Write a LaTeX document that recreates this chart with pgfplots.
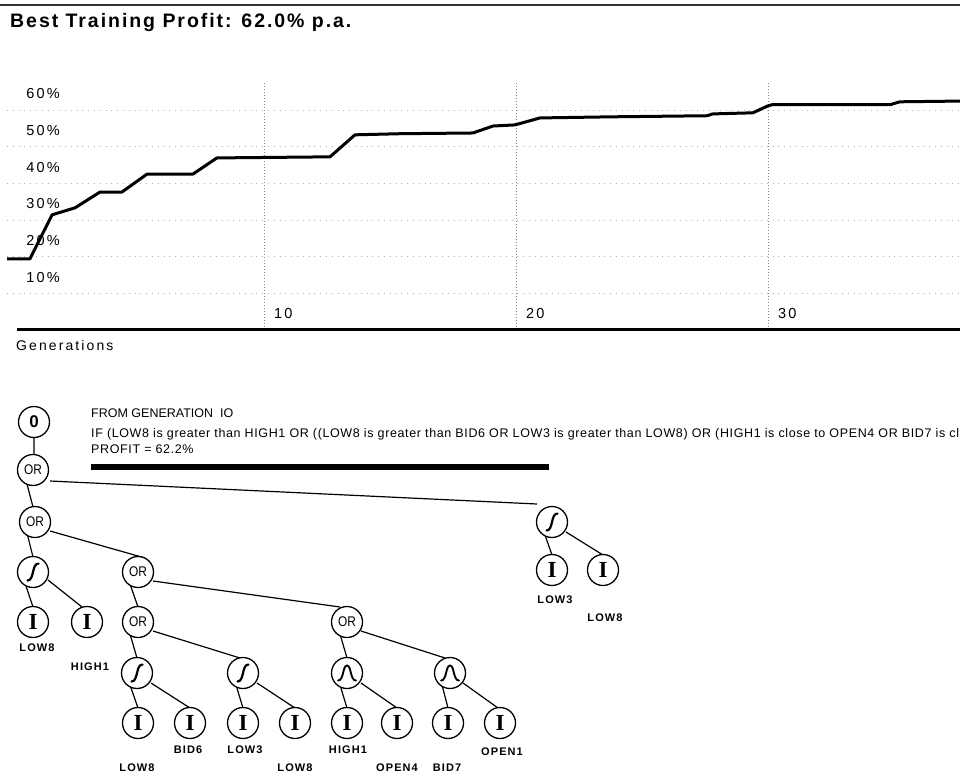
\documentclass[border=0pt]{standalone}
\usepackage{fontspec}
\setmainfont{Liberation Sans}
\newfontfamily\chartfont[LetterSpace=15]{Liberation Sans}
\newfontfamily\titlefont[LetterSpace=10]{Liberation Sans}
\newfontfamily\labfont[LetterSpace=10]{Liberation Sans}
\newfontfamily\rulefont[LetterSpace=5]{Liberation Sans}
\newfontfamily\orfont[FakeStretch=0.85]{Liberation Sans}
\newfontfamily\glyphfont{Liberation Serif}
\usepackage{pgfplots}
\pgfplotsset{compat=1.18}

\newcommand\tickf{\chartfont\fontsize{14.5}{15}\selectfont}
\newsavebox\sigbox
\newsavebox\bellbox

\pgfplotsset{
  tnode/.style={only marks, mark=*, mark size=15.5pt,
    mark options={fill=white, draw=black, line width=1.3pt},
    nodes near coords align=center,
    every node near coord/.append style={inner sep=0pt, anchor=center, text=black}},
}

\begin{document}%
\sbox\sigbox{\tikz\draw[line width=2.2pt, line cap=round] (-5.5pt,-8.5pt) .. controls (1.5pt,-8.5pt) and (-1.5pt,8.5pt) .. (5.5pt,8.5pt);}%
\sbox\bellbox{\tikz\draw[line width=1.9pt, line cap=round] (-9pt,-7pt) .. controls (-3pt,-7pt) and (-4.5pt,8pt) .. (0pt,8pt) .. controls (4.5pt,8pt) and (3pt,-7pt) .. (9pt,-7pt);}%
\begin{tikzpicture}
\path[use as bounding box] (0,0) rectangle (960pt,776pt);
\clip (0,0) rectangle (960pt,776pt);

% frame in pixel units (y downwards): title, captions and the rule tree
\begin{axis}[at={(0pt,0pt)}, anchor=south west, scale only axis,
  width=960pt, height=776pt, xmin=0, xmax=960, ymin=0, ymax=776,
  y dir=reverse, hide axis, clip=false]

\addplot[black!80, line width=1.5pt] coordinates {(0,5) (960,5)};
\node[anchor=base west, inner sep=0pt] at (axis cs:10,27.5)
  {\titlefont\bfseries\fontsize{19.5}{21}\selectfont Best Training Profit: 62.0\% p.a.};
\node[anchor=base west, inner sep=0pt] at (axis cs:16,350)
  {\chartfont\fontsize{14}{14}\selectfont Generations};

\node[anchor=base west, inner sep=0pt] at (axis cs:91,417)
  {\fontsize{12.5}{13}\selectfont FROM GENERATION \ IO};
\node[anchor=base west, inner sep=0pt] at (axis cs:91,437.5)
  {\rulefont\fontsize{12.5}{13}\selectfont IF (LOW8 is greater than HIGH1 OR ((LOW8 is greater than BID6 OR LOW3 is greater than LOW8) OR (HIGH1 is close to OPEN4 OR BID7 is close to OPEN1)))};
\node[anchor=base west, inner sep=0pt] at (axis cs:91,453.5)
  {\rulefont\fontsize{12.5}{13}\selectfont PROFIT = 62.2\%};
\addplot[black, line width=5.5pt] coordinates {(91,467) (549,467)};

% edges
\addplot[black, line width=1.2pt, unbounded coords=jump] coordinates {
 (34,437) (34,455) (nan,nan)
 (27,484) (33,507) (nan,nan)
 (50,481) (537,504) (nan,nan)
 (27,533) (33,557) (nan,nan)
 (50,531) (145,558) (nan,nan)
 (25,583) (33,607) (nan,nan)
 (48,580) (82,607) (nan,nan)
 (130,584) (138,607) (nan,nan)
 (153,581) (340,607) (nan,nan)
 (130,634) (137,658) (nan,nan)
 (153,631) (240,658) (nan,nan)
 (340,634) (347,658) (nan,nan)
 (361,631) (445,658) (nan,nan)
 (130,685) (138,708) (nan,nan)
 (151,683) (190,708) (nan,nan)
 (236,685) (243,708) (nan,nan)
 (257,683) (295,708) (nan,nan)
 (340,685) (347,708) (nan,nan)
 (361,683) (397,708) (nan,nan)
 (442,685) (448,708) (nan,nan)
 (463,683) (498,708) (nan,nan)
 (545,535) (552,555) (nan,nan)
 (566,532) (603,555)
};

% nodes
\addplot[tnode, nodes near coords={\fontsize{17}{17}\selectfont\bfseries 0}]
  coordinates {(34,422)};
\addplot[tnode, nodes near coords={\orfont\fontsize{14}{14}\selectfont OR}]
  coordinates {(33,470) (35,522) (138,572) (138,622) (347,622)};
\addplot[tnode, nodes near coords={\usebox\sigbox}]
  coordinates {(552,522) (33,572) (137,673) (243,673)};
\addplot[tnode, nodes near coords={\usebox\bellbox}]
  coordinates {(347,673) (450,673)};
\addplot[tnode, nodes near coords={\glyphfont\bfseries\fontsize{23}{23}\selectfont I}]
  coordinates {(552,570) (603,570) (33,622) (87,622) (138,723) (190,723)
               (243,723) (295,723) (347,723) (397,723) (448,723) (500,723)};

% input names
\addplot[draw=none, mark=none, nodes near coords, point meta=explicit symbolic,
  nodes near coords align=center,
  every node near coord/.append style={inner sep=0pt, text=black,
    font=\labfont\bfseries\fontsize{11}{11}\selectfont}]
  coordinates {(37,648) [LOW8] (90,667) [HIGH1] (555,600) [LOW3] (605,618) [LOW8]
    (137,768) [LOW8] (188,750) [BID6] (245,750) [LOW3] (295,768) [LOW8]
    (348,750) [HIGH1] (397,768) [OPEN4] (447,768) [BID7] (502,752) [OPEN1]};
\end{axis}

% profit chart
\begin{axis}[at={(7pt,446pt)}, anchor=south west, scale only axis,
  width=953pt, height=248pt,
  xmin=-0.2, xmax=37.62, ymin=0, ymax=67.6,
  axis line style={draw=none}, major tick length=0pt,
  xtick={10,20,30}, xticklabels={10,20,30},
  ytick={10,20,30,40,50,60}, yticklabels={10\%,20\%,30\%,40\%,50\%,60\%},
  xmajorgrids, ymajorgrids,
  x grid style={black!45, line width=0.7pt, dash pattern=on 0.8pt off 2.2pt},
  y grid style={black!30, line width=0.7pt, dash pattern=on 0.8pt off 5pt},
  ticklabel style={font=\tickf, inner sep=0pt},
  yticklabel style={anchor=base east, xshift=53pt, yshift=11pt},
  xticklabel style={anchor=base west, xshift=10pt, yshift=11pt},
  /pgf/number format/assume math mode=true,
  clip=false]
\addplot[black, line width=3pt] coordinates {(0.2,0) (37.62,0)};
\addplot[black, line width=3pt, line join=round] coordinates {
 (-0.2,19.4) (0.71,19.4) (1.59,31.4) (2.50,33.3) (3.49,37.6) (4.36,37.6)
 (5.36,42.5) (7.18,42.5) (8.13,46.9) (12.62,47.2) (13.61,53.2) (15.40,53.5)
 (18.29,53.7) (19.09,55.6) (19.96,55.9) (20.95,57.8) (23.73,58.1) (27.58,58.4)
 (27.81,58.9) (29.40,59.2) (30.00,61.1) (30.16,61.4) (34.84,61.4) (35.23,62.2)
 (37.62,62.4)};
\end{axis}
\end{tikzpicture}
\end{document}
